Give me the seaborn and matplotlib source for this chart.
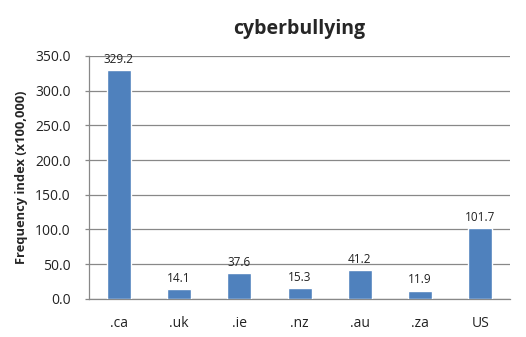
import matplotlib
matplotlib.use("Agg")
import matplotlib.pyplot as plt
import seaborn as sns
import pandas as pd

categories = [".ca", ".uk", ".ie", ".nz", ".au", ".za", "US"]
values = [329.2, 14.1, 37.6, 15.3, 41.2, 11.9, 101.7]
yticks = [0, 50, 100, 150, 200, 250, 300, 350]

sns.set_theme(style="white")
plt.rcParams["font.family"] = ["Open Sans", "DejaVu Sans"]

df = pd.DataFrame({"domain": categories, "freq": values})

fig = plt.figure(figsize=(5.26, 3.37), dpi=100)
ax = fig.add_axes([0.169, 0.113, 0.801, 0.721])

sns.barplot(data=df, x="domain", y="freq", color="#4F81BD", width=0.4,
            saturation=1, ax=ax, zorder=3)

ax.set_ylim(0, 350)
ax.set_yticks(yticks)
ax.set_yticklabels([f"{t:.1f}" for t in yticks], fontsize=10)
ax.yaxis.grid(True, color="#888888", linewidth=0.9, zorder=0)
ax.set_axisbelow(True)
ax.tick_params(axis="y", which="major", direction="out", length=3, width=0.9,
               color="#888888", left=True, pad=10, labelcolor="#222222")
ax.tick_params(axis="x", length=0, pad=12, labelsize=10, labelcolor="#222222")

for side in ["top", "right"]:
    ax.spines[side].set_visible(False)
for side in ["left", "bottom"]:
    ax.spines[side].set_color("#888888")
    ax.spines[side].set_linewidth(0.9)

ax.set_xlabel("")
ax.set_ylabel("Frequency index (x100,000)", fontsize=9.3, fontweight="bold",
              labelpad=5)
ax.set_title("cyberbullying", fontsize=14, fontweight="bold", pad=16)

for i, v in enumerate(values):
    ax.text(i, v + 6, f"{v:.1f}", ha="center", va="bottom", fontsize=8.5,
            color="#222222")

fig.savefig("out.png", dpi=100)
